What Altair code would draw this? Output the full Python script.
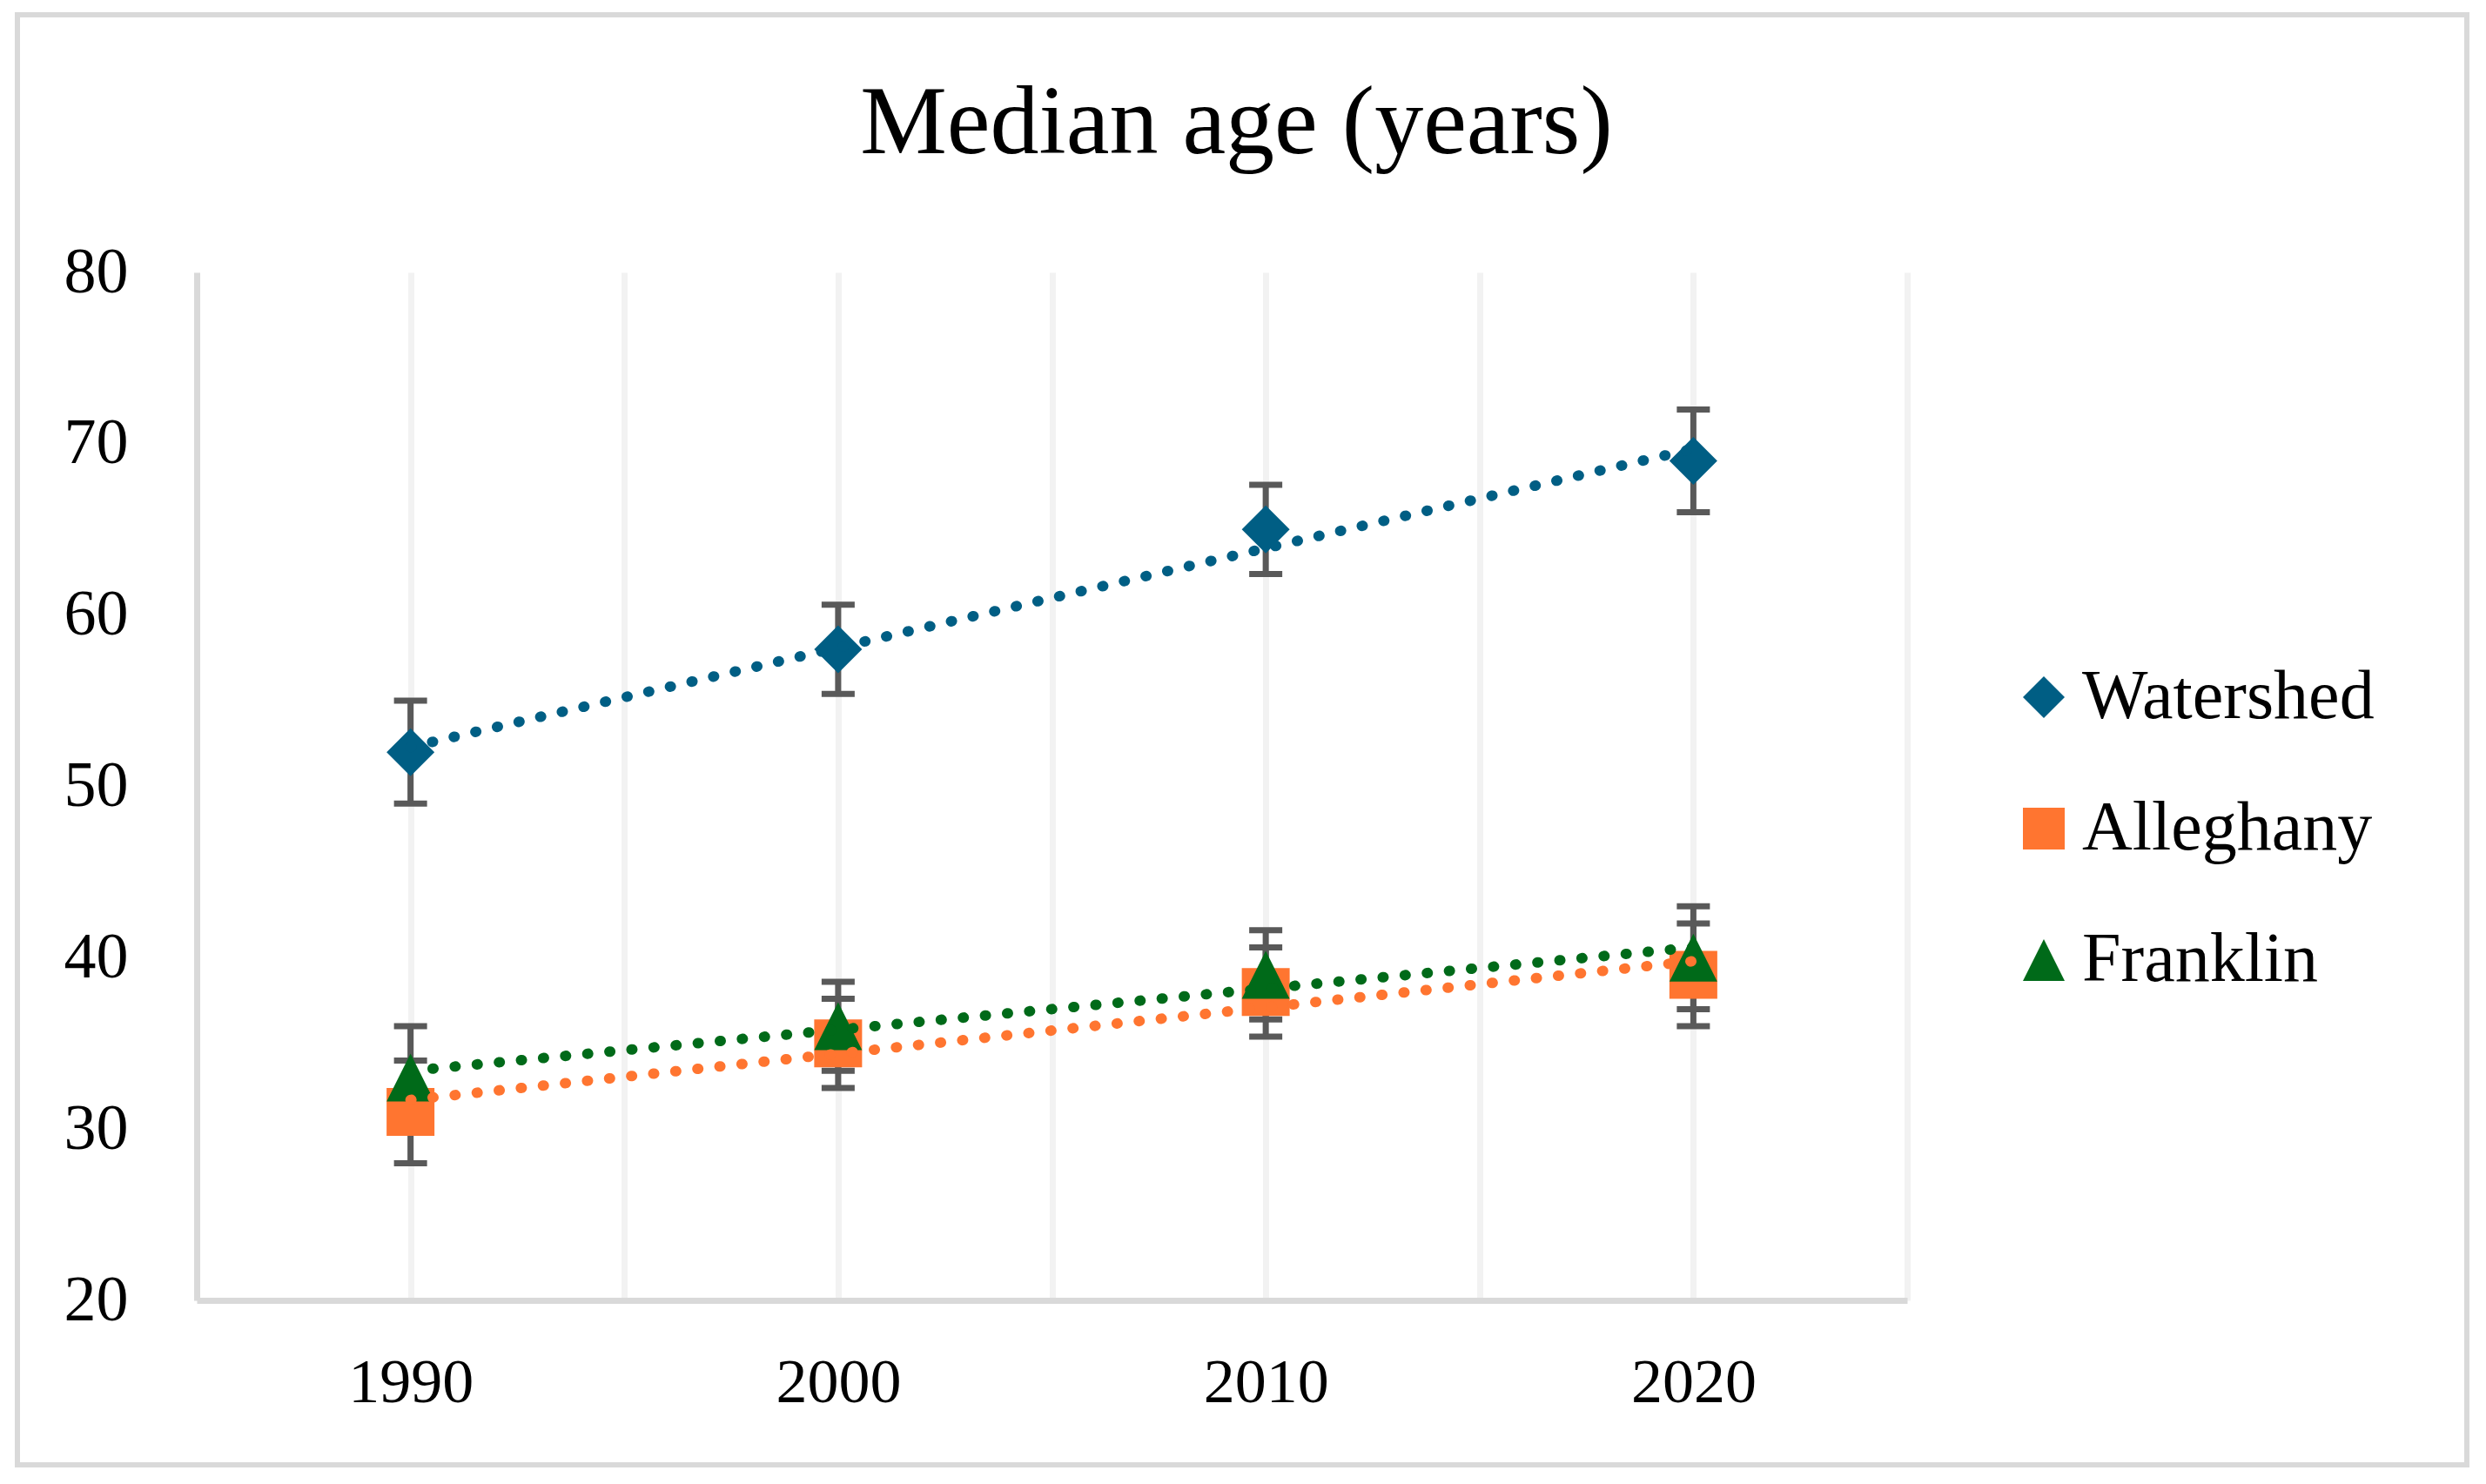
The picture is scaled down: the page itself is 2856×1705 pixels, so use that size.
import altair as alt
import pandas as pd

# ---- data ----
years = [1990, 2000, 2010, 2020]
series_names = ["Watershed", "Alleghany", "Franklin"]
watershed = [52, 58, 65, 69]
alleghany = [31, 35, 38, 39]
franklin = [33, 36, 39, 40]
error = [3.0, 2.6, 2.6, 3.0]
x_ticks = [1985, 1990, 1995, 2000, 2005, 2010, 2015, 2020, 2025]
y_ticks = [20, 30, 40, 50, 60, 70, 80]

colors = ["#005E84", "#FF7530", "#006A19"]
shapes = ["diamond", "square", "M0,-1L1,1L-1,1Z"]

rows = []
for name, vals in zip(series_names, [watershed, alleghany, franklin]):
    for yr, v, e in zip(years, vals, error):
        rows.append({"series": name, "year": yr, "value": v, "lo": v - e, "hi": v + e})
df = pd.DataFrame(rows)

FONT = "Liberation Serif"

x_axis = alt.Axis(values=x_ticks, format="d",
                  labelExpr="datum.value % 10 == 0 ? datum.label : ''",
                  grid=True, gridColor="#F2F2F2", gridWidth=7,
                  ticks=False, tickSize=0, domainColor="#D9D9D9", domainWidth=7,
                  labelFont=FONT, labelFontSize=72, labelColor="black",
                  labelBaseline="alphabetic", labelPadding=116, title=None)
x_scale = alt.Scale(domain=[1985, 2025], nice=False, zero=False)
y_axis = alt.Axis(values=y_ticks, grid=False, ticks=False, tickSize=0,
                  domainColor="#D9D9D9", domainWidth=7,
                  labelFont=FONT, labelFontSize=74, labelColor="black",
                  labelPadding=79, title=None)
y_scale = alt.Scale(domain=[20, 80], nice=False, zero=False)

def X():
    return alt.X("year:Q", scale=x_scale, axis=x_axis)

def Y(field):
    return alt.Y(field, type="quantitative", scale=y_scale, axis=y_axis)

color_scale = alt.Scale(domain=series_names, range=colors)
shape_scale = alt.Scale(domain=series_names, range=shapes)
leg = alt.Legend(title=None, orient="none", legendX=2082, legendY=448,
                 labelFont=FONT, labelFontSize=80, labelColor="black", labelLimit=0,
                 symbolSize=2304, symbolOpacity=1, symbolStrokeWidth=0,
                 labelOffset=4, rowPadding=71, padding=0)

frame = alt.Chart(alt.Data(values=[{"a": 1}])).mark_rect(
    filled=False, stroke="#D9D9D9", strokeWidth=6
).encode(x=alt.value(-206), x2=alt.value(2608), y=alt.value(-296), y2=alt.value(1370))

rules = alt.Chart(df).mark_rule(color="#595959", strokeWidth=7).encode(
    x=X(), y=Y("lo"), y2="hi:Q")
caps_lo = alt.Chart(df).mark_tick(orient="horizontal", color="#595959", size=38,
                                  thickness=7, opacity=1).encode(x=X(), y=Y("lo"))
caps_hi = alt.Chart(df).mark_tick(orient="horizontal", color="#595959", size=38,
                                  thickness=7, opacity=1).encode(x=X(), y=Y("hi"))

points = alt.Chart(df).mark_point(filled=True, opacity=1, size=3025, strokeWidth=0).encode(
    x=X(), y=Y("value"),
    color=alt.Color("series:N", scale=color_scale, legend=leg),
    shape=alt.Shape("series:N", scale=shape_scale, legend=leg),
)

trend = alt.Chart(df).transform_regression(
    "year", "value", groupby=["series"]
).mark_line(strokeWidth=12, strokeDash=[1, 24.5], strokeCap="round").encode(
    x=X(), y=Y("value"),
    color=alt.Color("series:N", scale=color_scale, legend=None),
)

chart = alt.layer(frame, rules, caps_lo, caps_hi, points, trend).properties(
    width=1965, height=1181,
    title=alt.TitleParams(text="Median age (years)", font=FONT, fontSize=112,
                          fontWeight="normal", color="black", anchor="middle",
                          dx=212, dy=274, offset=0, baseline="alphabetic"),
    padding={"left": 218, "top": 305, "right": 649, "bottom": 194},
    autosize=alt.AutoSizeParams(type="none"),
).configure_view(stroke=None)

chart.save("out.html", embed_options={"renderer": "svg", "actions": False})
